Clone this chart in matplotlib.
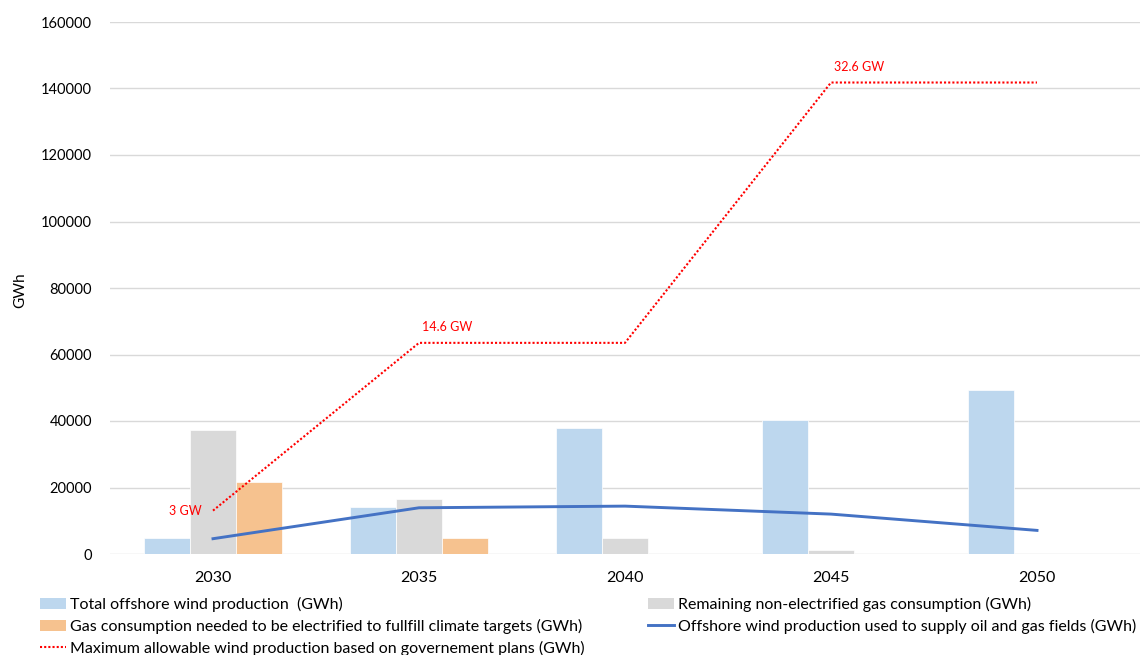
import matplotlib
matplotlib.use("Agg")
import matplotlib.pyplot as plt
import numpy as np
from matplotlib.lines import Line2D
from matplotlib.patches import Patch

plt.rcParams["font.family"] = ["Lato", "DejaVu Sans"]

years = ["2030", "2035", "2040", "2045", "2050"]
total_wind = [4800, 14200, 37900, 40300, 49300]
remaining_gas = [37300, 16500, 4900, 1300, 0]
gas_to_electrify = [21800, 4800, 0, 0, 0]
wind_to_fields = [4600, 13900, 14400, 12000, 7100]
max_allowable = [13050, 63500, 63500, 141800, 141800]
capacity_labels = ["3 GW", "14.6 GW", "14.6 GW", "32.6 GW", "32.6 GW"]

BLUE_BAR = "#BDD7EE"
GREY_BAR = "#D9D9D9"
ORANGE_BAR = "#F6C28F"
LINE_BLUE = "#4472C4"
RED = "#FF0000"

fig = plt.figure(figsize=(11.48, 6.55), dpi=100)
ax = fig.add_axes([110 / 1148, 101 / 655, 1030 / 1148, 532 / 655])

x = np.arange(len(years))
w = 0.223
ax.bar(x - w, total_wind, w, color=BLUE_BAR, edgecolor="white", linewidth=0.5, zorder=2)
ax.bar(x, remaining_gas, w, color=GREY_BAR, edgecolor="white", linewidth=0.5, zorder=2)
ax.bar(x + w, gas_to_electrify, w, color=ORANGE_BAR, edgecolor="white", linewidth=0.5, zorder=2)

ax.plot(x, wind_to_fields, color=LINE_BLUE, lw=2.1, zorder=3)
ax.plot(x, max_allowable, color=RED, lw=1.5, dashes=(1, 1), dash_capstyle="butt", zorder=3)

# capacity labels only where the plan steps up
for i in (0, 1, 3):
    if i == 0:
        ax.annotate(capacity_labels[i], (x[i], max_allowable[i]), xytext=(-8, 0),
                    textcoords="offset points", ha="right", va="center",
                    color=RED, fontsize=9)
    else:
        ax.annotate(capacity_labels[i], (x[i], max_allowable[i]), xytext=(2, 7),
                    textcoords="offset points", ha="left", va="bottom",
                    color=RED, fontsize=9)

ax.set_xlim(-0.5, len(years) - 0.5)
ax.set_ylim(0, 160000)
ax.set_yticks(np.arange(0, 160001, 20000))
ax.set_xticks(x)
ax.set_xticklabels(years)
ax.tick_params(axis="both", length=0, colors="black")
ax.tick_params(axis="y", pad=13, labelsize=10.5)
ax.tick_params(axis="x", pad=12, labelsize=11.5)
ax.grid(axis="y", color="#D9D9D9", lw=1, zorder=0)
ax.set_axisbelow(True)
for s in ax.spines.values():
    s.set_visible(False)
fig.text(20 / 1148, 1 - 290 / 655, "GWh", rotation=90, ha="center", va="center", fontsize=11)

legend_kw = dict(frameon=False, fontsize=11.5, handlelength=1.6, handleheight=0.65,
                 handletextpad=0.25, labelspacing=0.42, borderaxespad=0, borderpad=0)
left_items = [
    Patch(facecolor=BLUE_BAR, label="Total offshore wind production  (GWh)"),
    Patch(facecolor=ORANGE_BAR, label="Gas consumption needed to be electrified to fullfill climate targets (GWh)"),
    Line2D([], [], color=RED, lw=1.5, dashes=(1, 1), label="Maximum allowable wind production based on governement plans (GWh)"),
]
right_items = [
    Patch(facecolor=GREY_BAR, label="Remaining non-electrified gas consumption (GWh)"),
    Line2D([], [], color=LINE_BLUE, lw=2.1, label="Offshore wind production used to supply oil and gas fields (GWh)"),
]
fig.legend(handles=left_items, loc="upper left", bbox_to_anchor=(40 / 1148, 1 - 597 / 655), **legend_kw)
fig.legend(handles=right_items, loc="upper left", bbox_to_anchor=(648 / 1148, 1 - 597 / 655), **legend_kw)

fig.savefig("out.png", dpi=100)
